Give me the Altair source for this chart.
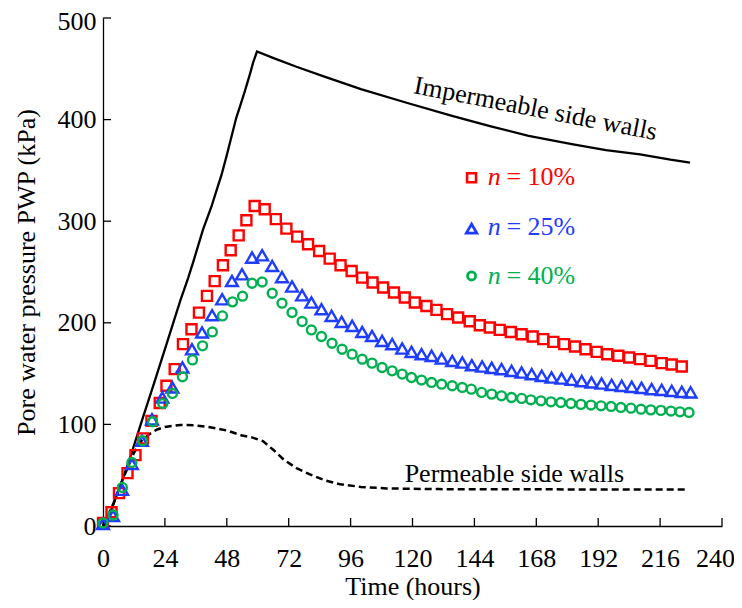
import altair as alt
import pandas as pd

# ---- data ----
sq_t = [0, 3.3, 6.2, 9.5, 12.6, 15.5, 18.8, 22.0, 24.6, 27.8, 31.0, 34.3, 37.2, 40.3, 43.3, 46.5, 49.5, 52.6, 55.6, 58.8,
        62.7, 67.0, 71.1, 75.3, 79.5, 83.8, 87.9, 92.1, 96.4, 100.5, 104.5, 108.6, 112.8, 117.0, 120.9, 125.4, 129.3,
        133.4, 137.7, 142.2, 146.1, 150.0, 153.8, 158.1, 162.3, 166.6, 170.7, 174.6, 178.8, 183.0, 187.1, 191.4,
        195.5, 199.8, 204.0, 208.2, 212.3, 216.6, 220.5, 224.4]
sq_v = [3, 13.5, 32.4, 52, 69.8, 86.2, 103.5, 121, 138, 154.4, 179, 193.7, 210, 226.5, 241, 256.6, 271.4, 286, 300.9, 315,
        311.7, 302, 292.7, 284.8, 277.3, 270.7, 263.2, 256.6, 251, 244.5, 239.6, 234.7, 229.8, 224.9, 220, 216.6, 212.7,
        208.5, 205.2, 201.5, 197.6, 195.4, 193, 191, 188.8, 186.5, 183.9, 181.2, 179, 176.7, 174, 171.4,
        169.1, 167.5, 165.8, 164.2, 162.5, 160.3, 159, 157]

tri_t = [0, 3.9, 7.4, 11.2, 15.1, 19.0, 23.0, 26.9, 30.8, 34.5, 38.4, 42.3, 46.2, 50.0, 53.9, 57.8, 61.7, 65.6, 69.4,
         73.3, 77.2, 80.8, 84.7, 88.6, 92.5, 96.6, 100.5, 104.3, 108.2, 112.1, 116.0, 119.6, 123.5, 127.4, 131.3,
         135.4, 139.3, 143.0, 147.0, 150.7, 154.5, 158.4, 162.3, 166.2, 170.1, 173.9, 177.8, 181.7, 185.6, 189.4,
         193.3, 197.2, 201.1, 205.0, 208.8, 212.7, 216.6, 220.5, 224.4, 227.8]
tri_v = [2, 10, 35.7, 61, 84, 105, 126.5, 136.4, 156, 174, 190.5, 207.5, 223.2, 241.2, 247.8, 264.2, 266.5, 256, 245,
         235.7, 227.1, 220, 213.4, 206.8, 200.9, 197, 191, 187.1, 182.2, 179, 174.7, 171.4, 169.1, 167.5, 164.9,
         162.5, 160.9, 158.3, 157, 155.7, 154.4, 152.7, 151.1, 149.5, 147.8, 146.2, 145.2, 143.9, 142.6, 141.3,
         140.3, 138.9, 137.9, 137, 136, 134.7, 134, 133, 132, 131.5]

cir_t = [0, 3.9, 7.5, 11.2, 15.3, 19.2, 23.2, 26.9, 30.8, 34.7, 38.6, 42.4, 46.3, 50.2, 54.1, 57.8, 61.7, 65.6, 69.4,
         73.3, 77.2, 80.8, 84.7, 88.8, 92.7, 96.6, 100.5, 104.3, 108.2, 112.1, 116.0, 119.6, 123.5, 127.4, 131.3,
         135.4, 139.3, 142.8, 146.8, 150.7, 154.5, 158.4, 162.3, 165.9, 169.8, 173.7, 177.5, 181.4, 185.3, 189.2,
         193.1, 197.0, 200.8, 204.7, 208.6, 212.4, 216.3, 220.2, 223.7, 227.2]
cir_v = [3, 10.8, 38, 62.6, 83.9, 102.6, 120.5, 130.5, 146.8, 163.5, 177.3, 191, 206.8, 220.6, 226.2, 238.9, 240.2, 229.1,
         219.3, 210.1, 201.3, 193, 186.5, 179.9, 174, 169.1, 164.2, 160.3, 156, 152.7, 149.5, 146.2, 143.6, 141.3,
         139.6, 138, 136.4, 134.7, 131.5, 129.8, 128.1, 126.5, 125.6, 124.2, 123.2, 122.2, 121.6, 120.6, 119.7, 119,
         118.3, 117.7, 116.7, 116, 115, 114.3, 113.8, 113.1, 112.4, 111.8]

imp_t = [0, 3, 6, 9, 11.6, 15, 20, 25, 30, 33, 35, 38.8, 42, 44, 46, 48, 50, 51.7, 53, 55, 57, 58.2, 59.7,
         65.9, 75, 85.3, 100, 117.7, 135, 150, 165, 182.3, 195, 208.2, 220, 227.6]
imp_v = [0, 14, 35, 56, 76, 103, 142, 182, 222, 244, 260, 292, 314, 330, 346, 365, 385, 402, 412, 428, 445, 456, 467,
         460.8, 452, 442.8, 430, 416.6, 404, 393.6, 384, 375.6, 370, 365.8, 360.5, 357.6]

per_t = [0, 4, 8, 12, 15, 18, 21, 24, 30, 36, 42, 48, 54, 58, 62, 66, 70, 75, 80, 86, 92, 100, 110, 130, 226.3]
per_v = [0, 22, 48, 72, 84, 90.5, 95, 97.5, 99.5, 99, 97, 94, 89, 87, 83.5, 75, 65.5, 57, 51, 45, 41, 38.5, 37, 36.3, 35.8]

x_ticks = [0, 24, 48, 72, 96, 120, 144, 168, 192, 216, 240]
y_ticks = [0, 100, 200, 300, 400, 500]

legend_labels = ["= 10%", "= 25%", "= 40%"]
legend_marker_t = [142.9, 142.9, 142.9]
legend_marker_v = [342.8, 292.7, 246.1]
legend_n_t = [149.2, 149.2, 149.2]
legend_eq_t = [156.4, 156.4, 156.4]
legend_text_v = [335.5, 286.5, 238.0]

RED = "#FF0000"
BLUE = "#1F3DFF"
GREEN = "#00B050"
FONT = "Liberation Serif"
FS = 26

W, H = 619, 508

xs = alt.Scale(domain=[0, 240], nice=False, zero=True)
ys = alt.Scale(domain=[0, 500], nice=False, zero=True)

X = alt.X("x:Q", scale=xs,
          axis=alt.Axis(title="Time (hours)", values=x_ticks, grid=False, ticks=False,
                        labelFont=FONT, labelFontSize=FS, titleFont=FONT, titleFontSize=FS,
                        labelOffset={"expr": "datum.value == 240 ? -7 : 0"},
                        labelPadding=19, titlePadding=2, labelFlush=False, labelOverlap=False))
Y = alt.Y("y:Q", scale=ys,
          axis=alt.Axis(title="Pore water pressure PWP (kPa)", values=y_ticks, grid=False, ticks=False,
                        labelFont=FONT, labelFontSize=FS, titleFont=FONT, titleFontSize=FS,
                        labelOffset={"expr": "datum.value == 500 ? 3 : 0"},
                        labelPadding=7, titlePadding=18, labelFlush=False, labelOverlap=False))


def df(t, v):
    return pd.DataFrame({"x": t, "y": v})


imp = alt.Chart(df(imp_t, imp_v)).mark_line(color="black", strokeWidth=2.3).encode(x=X, y=Y, order="x:Q")
per = alt.Chart(df(per_t, per_v)).mark_line(color="black", strokeWidth=2.5, strokeDash=[7, 4]).encode(x=X, y=Y, order="x:Q")

sq = alt.Chart(df(sq_t, sq_v)).mark_point(shape="square", filled=False, color=RED, size=100, strokeWidth=2.4, opacity=1).encode(x=X, y=Y)
tri = alt.Chart(df(tri_t, tri_v)).mark_point(shape="triangle-up", filled=False, color=BLUE, size=140, strokeWidth=2.4, opacity=1).encode(x=X, y=Y)
cir = alt.Chart(df(cir_t, cir_v)).mark_point(shape="circle", filled=False, color=GREEN, size=80, strokeWidth=2.4, opacity=1).encode(x=X, y=Y)

leg = pd.DataFrame({"x": legend_marker_t, "y": legend_marker_v})
leg_sq = alt.Chart(leg.iloc[[0]]).mark_point(shape="square", filled=False, color=RED, size=80, strokeWidth=2.6, opacity=1).encode(x=X, y=Y)
leg_tri = alt.Chart(leg.iloc[[1]]).mark_point(shape="triangle-up", filled=False, color=BLUE, size=110, strokeWidth=2.8, opacity=1).encode(x=X, y=Y)
leg_cir = alt.Chart(leg.iloc[[2]]).mark_point(shape="circle", filled=False, color=GREEN, size=65, strokeWidth=2.8, opacity=1).encode(x=X, y=Y)

colors = [RED, BLUE, GREEN]
ltxt = pd.DataFrame({"xn": legend_n_t, "xe": legend_eq_t, "y": legend_text_v, "lab": legend_labels, "c": colors})
n_txt = alt.Chart(ltxt).mark_text(font=FONT, fontSize=FS, fontStyle="italic", align="left", baseline="alphabetic").encode(
    x=alt.X("xn:Q", scale=xs), y=Y, text=alt.value("n"), color=alt.Color("c:N", scale=None))
eq_txt = alt.Chart(ltxt).mark_text(font=FONT, fontSize=FS, align="left", baseline="alphabetic").encode(
    x=alt.X("xe:Q", scale=xs), y=Y, text="lab:N", color=alt.Color("c:N", scale=None))

ann = pd.DataFrame({"x": [167.1], "y": [403.0], "t": ["Impermeable side walls"]})
ann_imp = alt.Chart(ann).mark_text(font=FONT, fontSize=FS, angle=11, align="center", baseline="alphabetic", color="black").encode(x=X, y=Y, text="t:N")
ann2 = pd.DataFrame({"x": [159.5], "y": [43.3], "t": ["Permeable side walls"]})
ann_per = alt.Chart(ann2).mark_text(font=FONT, fontSize=FS, align="center", baseline="alphabetic", color="black").encode(x=X, y=Y, text="t:N")

xt = alt.Chart(pd.DataFrame({"x": x_ticks})).mark_rule(color="black", strokeWidth=1.3).encode(
    x=X, y=alt.value(H), y2=alt.value(H - 8))
yt = alt.Chart(pd.DataFrame({"y": y_ticks})).mark_rule(color="black", strokeWidth=1.3).encode(
    y=Y, x=alt.value(0), x2=alt.value(8))

chart = alt.layer(xt, yt, imp, per, sq, tri, cir, leg_sq, leg_tri, leg_cir, n_txt, eq_txt, ann_imp, ann_per).properties(
    width=W, height=H,
    autosize=alt.AutoSizeParams(type="none"),
    padding={"left": 95, "top": 10, "right": 12, "bottom": 74},
).configure_view(stroke=None).configure_axis(
    domainColor="black", domainWidth=1.3,
    labelFont=FONT, labelFontSize=FS, labelColor="black",
    titleFont=FONT, titleFontSize=FS, titleColor="black", titleFontWeight="normal",
)

chart.save("out.html", embed_options={"renderer": "svg", "actions": False})
